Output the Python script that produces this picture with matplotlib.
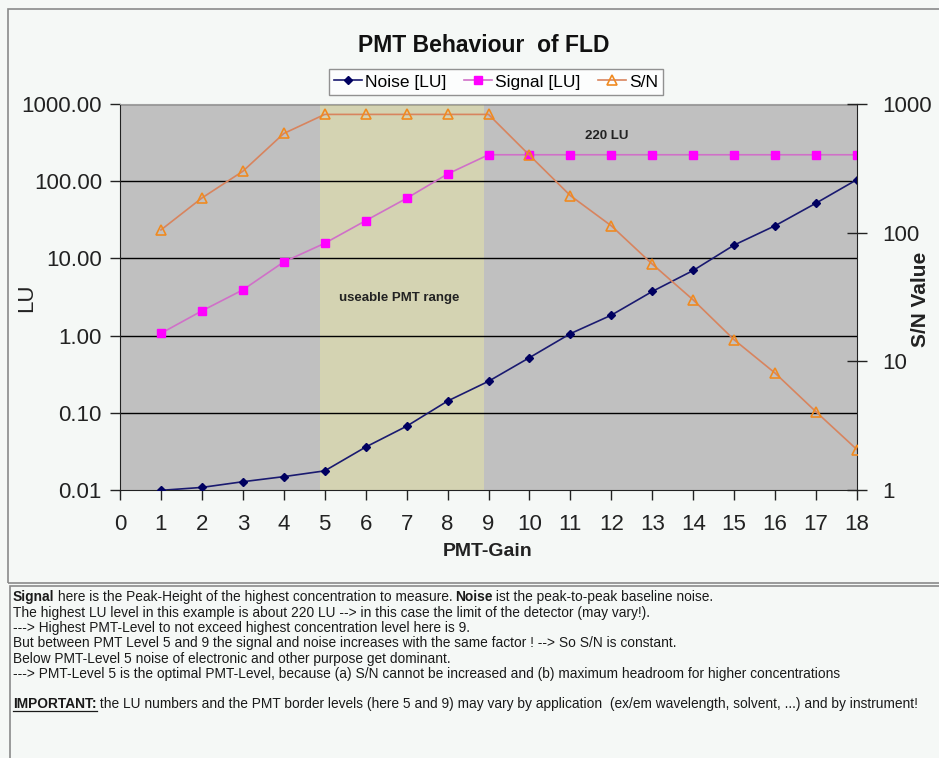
import numpy as np
import matplotlib.pyplot as plt
from matplotlib.patches import Rectangle
from matplotlib.lines import Line2D

plt.rcParams['font.family'] = ['Liberation Sans', 'DejaVu Sans']

# PMT gain levels and measured values
gain = [1, 2, 3, 4, 5, 6, 7, 8, 9, 10, 11, 12, 13, 14, 15, 16, 17, 18]
noise = [0.0099, 0.0108, 0.0128, 0.0149, 0.0177, 0.036, 0.067, 0.142, 0.256,
         0.518, 1.06, 1.84, 3.73, 6.98, 14.9, 26.5, 52, 105]
signal = [1.07, 2.09, 3.91, 9.0, 15.7, 30.8, 60, 124, 220,
          220, 220, 220, 220, 220, 220, 220, 220, 220]
sn = [105, 186, 300, 590, 830, 830, 830, 830, 830,
      400, 194, 113, 57, 30, 14.7, 8.1, 4.05, 2.06]

lu_ticks = [0.01, 0.1, 1, 10, 100, 1000]
lu_labels = ['0.01', '0.10', '1.00', '10.00', '100.00', '1000.00']
sn_ticks = [1, 10, 100, 1000]
usable = (4.88, 8.9)

W, H = 939, 758
fig = plt.figure(figsize=(W / 100, H / 100), dpi=100)
fig.patch.set_facecolor('#f5f8f6')

def px(x, y):
    return x / W, 1 - y / H

# frames around chart and notes
fig.add_artist(Rectangle(px(8, 583), (W + 20 - 8) / W, (583 - 9) / H, transform=fig.transFigure,
                         fill=False, edgecolor='#8a8a8a', lw=1.2))
fig.add_artist(Rectangle(px(10, 770), (W + 20 - 10) / W, (770 - 586) / H, transform=fig.transFigure,
                         fill=False, edgecolor='#8a8a8a', lw=1.2))

ax = fig.add_axes([120 / W, 1 - 490 / H, (857 - 120) / W, (490 - 104) / H])
ax.set_facecolor('#c0c0c0')
ax.axvspan(*usable, color='#d4d3b2', lw=0, zorder=0)

ax.set_yscale('log')
ax.set_ylim(0.01, 1000)
ax.set_xlim(0, 18)
ax.set_yticks(lu_ticks)
ax.set_yticklabels(lu_labels)
ax.minorticks_off()
ax.set_xticks(range(0, 19))
for v in lu_ticks[1:]:
    ax.axhline(v, color='black', lw=1.0, zorder=1)

ax.tick_params(axis='both', labelsize=16, direction='out', length=7, width=1,
               colors='#222222', pad=6)
ax.tick_params(axis='x', pad=10)
for s in ['left', 'bottom']:
    ax.spines[s].set_color('#222222')
ax.spines['top'].set_color('#a0a0a0')
ax.spines['right'].set_visible(False)

l1, = ax.plot(gain, noise, color='#1a1a70', lw=1.2, marker='D', ms=4,
              mfc='#000060', mec='#000060', zorder=3, label='Noise [LU]')
l2, = ax.plot(gain, signal, color='#d070c8', lw=1.2, marker='s', ms=6,
              mfc='#ff00ff', mec='#ff00ff', zorder=3, label='Signal [LU]')

ax2 = ax.twinx()
ax2.set_yscale('log')
ax2.set_ylim(1, 1000)
ax2.set_yticks(sn_ticks)
ax2.set_yticklabels(['1', '10', '100', '1000'])
ax2.minorticks_off()
ax2.tick_params(axis='y', labelsize=16, direction='inout', length=14, width=1,
                colors='#222222', pad=11)
ax2.spines['right'].set_color('#222222')
for s in ['left', 'top', 'bottom']:
    ax2.spines[s].set_visible(False)
l3, = ax2.plot(gain, sn, color='#d8845e', lw=1.2, marker='^', ms=7,
               mfc='none', mec='#f08a20', mew=1.2, zorder=3, label='S/N')

ax.text(6.83, 3.1, 'useable PMT range', fontsize=9.5, fontweight='bold',
        ha='center', va='center', color='#222222')
ax.text(11.88, 385, '220 LU', fontsize=9.5, fontweight='bold',
        ha='center', va='center', color='#222222')

fig.text(*px(484, 46), 'PMT Behaviour  of FLD', fontsize=16.5, fontweight='bold',
         ha='center', va='center', color='#111111')
fig.text(*px(27, 298), 'LU', fontsize=16, rotation=90, ha='center', va='center',
         color='#222222')
fig.text(*px(921, 299), 'S/N Value', fontsize=15, fontweight='bold', rotation=90,
         ha='center', va='center', color='#222222')
fig.text(*px(488, 552), 'PMT-Gain', fontsize=14, fontweight='bold',
         ha='center', va='center', color='#222222')

leg = fig.legend(handles=[l1, l2, l3], loc='center', bbox_to_anchor=px(496, 82),
                 ncol=3, fontsize=12.5, frameon=True, fancybox=False,
                 edgecolor='#777777', facecolor='white', handlelength=1.6,
                 handletextpad=0.2, columnspacing=1.0, borderpad=0.3)
leg.get_frame().set_linewidth(1.0)

# notes below the chart, bold runs placed one after another
renderer = fig.canvas.get_renderer()
note_size = 9.9

def note(y, parts, x=13):
    for txt, weight, under in parts:
        t = fig.text(*px(x, y), txt, fontsize=note_size, fontweight=weight,
                     ha='left', va='center', color='#1a1a1a')
        bb = t.get_window_extent(renderer)
        if under:
            uy = 1 - (y + 7) / H
            fig.add_artist(Line2D([x / W, (x + bb.width) / W], [uy, uy],
                                  transform=fig.transFigure, color='#1a1a1a', lw=0.9))
        x += bb.width - 1

note(597, [('Signal', 'bold', False),
           (' here is the Peak-Height of the highest concentration to measure. ', 'normal', False),
           ('Noise', 'bold', False),
           (' ist the peak-to-peak baseline noise.', 'normal', False)])
note(613, [('The highest LU level in this example is about 220 LU --> in this case the limit of the detector (may vary!).', 'normal', False)])
note(628, [('---> Highest PMT-Level to not exceed highest concentration level here is 9.', 'normal', False)])
note(643, [('But between PMT Level 5 and 9 the signal and noise increases with the same factor ! --> So S/N is constant.', 'normal', False)])
note(659, [('Below PMT-Level 5 noise of electronic and other purpose get dominant.', 'normal', False)])
note(674, [('---> PMT-Level 5 is the optimal PMT-Level, because (a) S/N cannot be increased and (b) maximum headroom for higher concentrations', 'normal', False)])
note(704, [('IMPORTANT:', 'bold', True),
           (' the LU numbers and the PMT border levels (here 5 and 9) may vary by application  (ex/em wavelength, solvent, ...) and by instrument!', 'normal', False)])

fig.savefig('out.png', dpi=100, facecolor=fig.get_facecolor())
